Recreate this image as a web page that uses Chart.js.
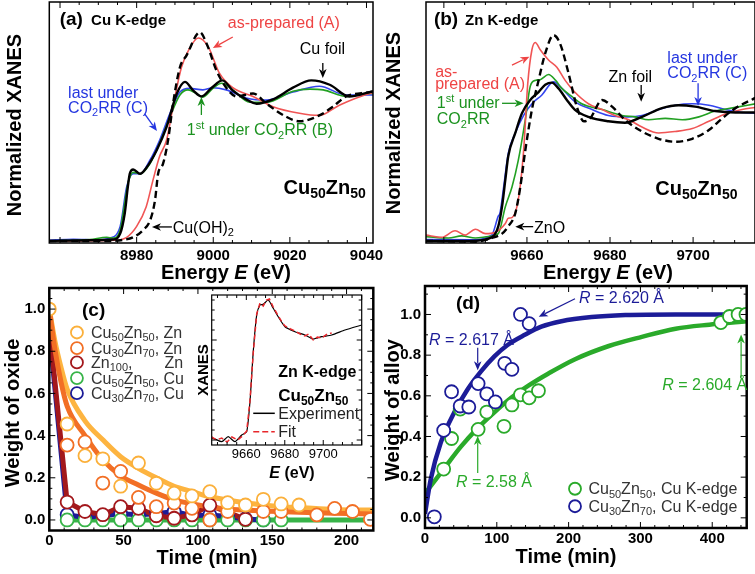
<!DOCTYPE html>
<html>
<head>
<meta charset="utf-8">
<script src="https://cdn.jsdelivr.net/npm/chart.js@4"></script>
<style>
  body { margin: 0; background: #fff; }
  #wrap { position: relative; width: 755px; height: 574px; overflow: hidden; background: #fff; }
  #wrap canvas { position: absolute; left: 0; top: 0; }
</style>
</head>
<body>
<div id="wrap">
  <canvas id="chartA" width="755" height="574"></canvas>
  <canvas id="chartB" width="755" height="574"></canvas>
  <canvas id="chartC" width="755" height="574"></canvas>
  <canvas id="chartI" width="755" height="574"></canvas>
  <canvas id="chartD" width="755" height="574"></canvas>
</div>
<script>
// ---- (a) Cu K-edge XANES ----
const cuFoilE = [8957.2, 8967.8, 8973.9, 8975.7, 8976.9, 8977.7, 8978.2, 8979.1, 8980.9, 8982.5, 8985.2, 8987.8, 8990.5, 8992.6, 8994.8, 8996.9, 8999.6, 9002.4, 9005.1, 9008.6, 9011.3, 9015.6, 9020.8, 9025.6, 9030.4, 9035.5, 9040.8, 9041.7];
const cuFoilMu = [0, 0.005, 0.01, 0.05, 0.19, 0.37, 0.46, 0.49, 0.46, 0.50, 0.62, 0.78, 1.01, 1.09, 1.03, 0.99, 1.05, 1.10, 1.03, 0.97, 0.94, 0.97, 1.05, 1.10, 1.07, 0.99, 1.02, 1.025];
const cuOHE = [8957.2, 8973.0, 8976.4, 8979.1, 8981.7, 8983.5, 8984.8, 8985.6, 8986.9, 8988.2, 8989.5, 8991.3, 8993.0, 8996.5, 8998.3, 9000.8, 9003.4, 9006.1, 9010.4, 9013.9, 9019.1, 9022.5, 9027.7, 9031.2, 9034.7, 9040.8, 9041.7];
const cuOHMu = [0, 0.0, 0.007, 0.025, 0.075, 0.14, 0.28, 0.46, 0.53, 0.69, 0.94, 1.19, 1.27, 1.43, 1.35, 1.17, 1.05, 0.99, 1.01, 0.94, 0.85, 0.82, 0.86, 0.92, 0.99, 1.02, 1.025];
const cuPrepE = [8957.2, 8974.1, 8977.4, 8980.0, 8982.5, 8984.3, 8986.0, 8987.8, 8989.5, 8991.7, 8993.8, 8996.1, 8998.7, 9001.6, 9005.1, 9010.4, 9015.6, 9022.5, 9027.7, 9032.9, 9040.8, 9041.7];
const cuPrepMu = [0, 0.005, 0.025, 0.10, 0.235, 0.42, 0.58, 0.69, 0.92, 1.19, 1.32, 1.39, 1.33, 1.15, 1.05, 0.99, 0.92, 0.875, 0.86, 0.93, 1.01, 1.015];
const cuFirstE = [8957.2, 8967.8, 8972.2, 8973.9, 8975.7, 8977.8, 8979.1, 8980.9, 8983.5, 8986.0, 8988.7, 8991.3, 8993.4, 8995.6, 8997.3, 8999.9, 9002.2, 9005.1, 9009.5, 9013.9, 9020.8, 9025.2, 9028.7, 9034.7, 9040.8, 9041.7];
const cuFirstMu = [0, 0.01, 0.025, 0.02, 0.075, 0.40, 0.47, 0.46, 0.53, 0.67, 0.85, 1.0, 1.035, 1.01, 0.985, 1.045, 1.08, 1.035, 0.95, 0.95, 1.025, 1.04, 1.035, 0.99, 1.01, 1.01];
const cuLastE = [8957.2, 8963.5, 8969.9, 8973.0, 8975.7, 8977.4, 8979.1, 8980.9, 8983.5, 8986.0, 8988.7, 8991.3, 8993.8, 8997.3, 8999.9, 9003.4, 9008.6, 9013.9, 9020.8, 9027.7, 9034.7, 9040.8, 9041.7];
const cuLastMu = [0.005, 0.012, 0.008, 0.02, 0.10, 0.37, 0.46, 0.46, 0.555, 0.69, 0.875, 1.02, 1.045, 1.035, 1.05, 1.035, 0.98, 0.965, 1.02, 1.06, 1.0, 1.0, 1.0];
const cuTicks = [8980, 9000, 9020, 9040];

// ---- (b) Zn K-edge XANES ----
const znFoilE = [9635.7, 9646.2, 9651.5, 9653.1, 9654.0, 9654.8, 9655.5, 9657.2, 9658.8, 9660.8, 9662.8, 9664.4, 9666.0, 9667.6, 9669.6, 9671.5, 9674.8, 9679.6, 9683.6, 9687.7, 9692.5, 9696.5, 9700.5, 9705.3, 9710.2, 9715.0];
const znFoilMu = [0.0, 0.0, 0.025, 0.10, 0.235, 0.42, 0.58, 0.74, 0.875, 0.966, 1.02, 1.07, 1.085, 1.045, 0.966, 0.90, 0.85, 0.82, 0.81, 0.85, 0.91, 0.93, 0.92, 0.89, 0.88, 0.88];
const znOE = [9635.7, 9647.6, 9651.5, 9654.0, 9655.5, 9657.2, 9658.4, 9659.6, 9661.2, 9662.8, 9664.4, 9666.4, 9668.0, 9670.0, 9672.0, 9673.7, 9675.2, 9678.1, 9680.5, 9683.6, 9687.7, 9691.7, 9695.7, 9699.8, 9703.8, 9707.0, 9710.2, 9715.0];
const znOMu = [0.0, -0.005, 0.02, 0.05, 0.10, 0.19, 0.37, 0.62, 0.90, 1.10, 1.285, 1.41, 1.35, 1.15, 0.92, 0.82, 0.84, 0.966, 0.92, 0.83, 0.75, 0.70, 0.68, 0.70, 0.76, 0.84, 0.91, 0.98];
const znPrepE = [9635.7, 9639.5, 9642.7, 9645.1, 9647.6, 9650.0, 9652.4, 9654.8, 9655.5, 9656.4, 9657.9, 9659.2, 9660.2, 9661.2, 9662.0, 9663.2, 9665.2, 9667.2, 9669.2, 9671.5, 9674.8, 9678.1, 9681.2, 9684.5, 9687.7, 9691.7, 9695.7, 9699.8, 9703.8, 9707.8, 9711.8, 9715.0];
const znPrepMu = [0.04, 0.025, 0.07, 0.04, 0.08, 0.05, 0.06, 0.12, 0.155, 0.16, 0.28, 0.62, 1.08, 1.31, 1.36, 1.31, 1.24, 1.19, 1.10, 1.02, 0.94, 0.90, 0.86, 0.83, 0.78, 0.74, 0.75, 0.77, 0.82, 0.87, 0.90, 0.915];
const znFirstE = [9635.7, 9641.1, 9644.3, 9647.6, 9650.7, 9653.1, 9654.8, 9656.4, 9657.9, 9659.6, 9660.8, 9662.0, 9663.2, 9665.2, 9666.9, 9668.4, 9670.8, 9673.2, 9678.1, 9682.9, 9686.0, 9689.3, 9693.3, 9697.4, 9701.4, 9705.3, 9710.2, 9715.0];
const znFirstMu = [0.03, 0.02, 0.035, 0.02, 0.03, 0.05, 0.235, 0.37, 0.55, 0.83, 1.06, 1.10, 1.105, 1.14, 1.10, 1.045, 0.99, 0.94, 0.90, 0.86, 0.85, 0.83, 0.84, 0.83, 0.85, 0.89, 0.915, 0.94];
const znLastE = [9635.7, 9646.2, 9651.5, 9653.1, 9653.5, 9654.4, 9655.5, 9657.2, 9659.2, 9661.2, 9663.6, 9666.4, 9668.4, 9671.5, 9675.7, 9679.6, 9684.5, 9687.7, 9691.7, 9695.7, 9699.8, 9703.8, 9707.8, 9711.8, 9715.0];
const znLastMu = [0.01, 0.008, 0.04, 0.17, 0.19, 0.37, 0.60, 0.74, 0.86, 0.94, 1.0, 1.09, 1.045, 0.955, 0.90, 0.86, 0.85, 0.86, 0.90, 0.93, 0.94, 0.93, 0.90, 0.88, 0.875];
const znTicks = [9660, 9680, 9700];

// ---- inset of (c): Zn K-edge fit ----
const insExpE = [9642, 9643.7, 9647.2, 9650.6, 9654.1, 9657.6, 9660.2, 9661.9, 9663.6, 9665.4, 9667.1, 9668.8, 9671.4, 9674.0, 9676.6, 9680.1, 9685.3, 9690.5, 9694.8, 9699.2, 9704.4, 9711.3, 9720];
const insExpMu = [0.02, 0.01, -0.017, 0.033, -0.017, 0.05, 0.083, 0.383, 0.883, 1.25, 1.35, 1.357, 1.40, 1.317, 1.233, 1.133, 1.083, 1.05, 1.01, 1.033, 1.05, 1.10, 1.15];
const insFitE = [9642, 9644.5, 9647.2, 9650.0, 9652.5, 9655.5, 9658.0, 9660.2, 9661.9, 9663.6, 9665.4, 9667.1, 9668.8, 9670.5, 9672.0, 9674.0, 9676.6, 9678.5, 9680.1, 9683.0, 9685.3, 9688.0, 9690.5, 9692.5, 9694.8, 9697.0, 9699.2, 9702.0, 9704.4];
const insFitMu = [0.03, 0.0, 0.02, -0.02, 0.03, 0.0, 0.04, 0.09, 0.39, 0.87, 1.26, 1.37, 1.34, 1.40, 1.41, 1.33, 1.24, 1.18, 1.14, 1.11, 1.09, 1.06, 1.04, 1.06, 1.0, 1.03, 1.02, 1.06, 1.07];

// ---- (c) weight of oxide vs time ----
const c5050ZnT = [0, 12, 24, 36, 48, 60, 72, 84, 96, 108, 120, 132, 144, 156, 168];
const c5050ZnW = [1.0, 0.455, 0.305, 0.29, 0.16, 0.27, 0.174, 0.127, 0.114, 0.134, 0.082, 0.071, 0.098, 0.076, 0.071];
const c3070ZnT = [12, 24, 36, 48, 60, 72, 84, 96, 108, 120, 144, 156, 180, 192, 204, 216];
const c3070ZnW = [0.355, 0.37, 0.175, 0.23, 0.107, 0.063, 0.08, 0.055, 0.0, 0.04, 0.04, 0.04, 0.024, 0.055, 0.04, 0.003];
const zn100T = [12, 24, 36, 48, 60, 72, 84, 96, 108, 132];
const zn100W = [0.085, 0.04, 0.025, 0.063, 0.055, 0.02, 0.008, 0.024, 0.07, 0.003];
const c5050CuT = [12, 24, 36, 48, 60, 72, 84, 96, 108, 120, 132, 144, 156];
const c5050CuW = [0, 0, 0, 0, 0, 0, 0, 0, 0, 0, 0, 0, 0];
const c3070CuT = [12, 24, 36, 48, 60, 72, 84, 96, 108, 120, 132, 144];
const c3070CuW = [0.025, 0.012, 0.02, 0.03, 0.025, 0.03, 0.04, 0.02, 0.024, 0.016, 0.005, 0.0];
// fitted curves and connecting lines
const fit5050T = [0, 4, 8, 12, 24, 36, 48, 60, 72, 84, 96, 108, 120, 132, 144, 156, 168, 192, 218];
const fit5050W = [1.0, 0.84, 0.72, 0.62, 0.47, 0.38, 0.30, 0.245, 0.20, 0.16, 0.135, 0.11, 0.095, 0.082, 0.071, 0.063, 0.059, 0.05, 0.047];
const fit3070T = [0, 4, 8, 12, 24, 36, 48, 60, 72, 84, 96, 108, 120, 144, 168, 192, 218];
const fit3070W = [1.0, 0.80, 0.65, 0.54, 0.40, 0.285, 0.21, 0.166, 0.127, 0.095, 0.076, 0.063, 0.052, 0.043, 0.036, 0.032, 0.028];
const zn100LineT = [0, 12, 24, 36, 48, 60, 72, 84, 96, 108, 132];
const zn100LineW = [0.92, 0.085, 0.04, 0.025, 0.063, 0.055, 0.02, 0.008, 0.024, 0.07, 0.003];
const cu3070LineT = [0, 12, 24, 36, 48, 60, 72, 84, 96, 108, 120, 132, 144];
const cu3070LineW = [0.9, 0.025, 0.012, 0.02, 0.03, 0.025, 0.03, 0.04, 0.02, 0.024, 0.016, 0.005, 0.0];
const cu5050LineT = [8, 216];
const cu5050LineW = [0, 0];
const legendC = ['Cu_{50}Zn_{50}, Zn', 'Cu_{30}Zn_{70}, Zn', 'Zn_{100},', 'Cu_{50}Zn_{50}, Cu', 'Cu_{30}Zn_{70}, Cu'];
const legendRowsW = [0.889, 0.815, 0.747, 0.673, 0.601];

// ---- (d) weight of alloy vs time ----
const d3070T = [13, 26, 37, 49, 61, 74, 86, 98, 111, 121, 133, 145];
const d3070W = [0.005, 0.43, 0.62, 0.55, 0.545, 0.66, 0.61, 0.57, 0.76, 0.73, 1.0, 0.955];
const d5050T = [26, 37, 49, 74, 86, 110, 121, 133, 145, 158, 412, 424, 436, 447];
const d5050W = [0.24, 0.39, 0.535, 0.435, 0.52, 0.45, 0.555, 0.605, 0.59, 0.625, 0.96, 0.99, 1.0, 1.0];
const dFit3070T = [0, 8, 22, 41, 59, 78, 97, 115, 139, 162, 190, 232, 279, 349, 450];
const dFit3070W = [0.02, 0.19, 0.37, 0.52, 0.63, 0.72, 0.795, 0.85, 0.90, 0.94, 0.967, 0.987, 0.997, 1.0, 1.0];
const dFit5050T = [0, 26, 50, 73, 97, 120, 144, 172, 209, 256, 302, 349, 396, 450];
const dFit5050W = [0.12, 0.24, 0.35, 0.44, 0.52, 0.59, 0.65, 0.71, 0.78, 0.845, 0.89, 0.93, 0.95, 0.967];

const FONT = '"Liberation Sans", Arial, Helvetica, sans-serif';
const RED_T = '#ee4444', BLUE_T = '#2436e0', GREEN_T = '#1b921f';
const LORANGE = '#fbb03b', ORANGE = '#f26f25', DRED = '#a3181c', GREEN_C = '#38b449', NAVY = '#1c1c98', GREEN_D = '#2aaa2a';

// text with _{sub}, ^{sup} and *italic* pieces
function drawRich(ctx, str, x, y, size, o) {
    const parts = [];
    const re = /_\{([^}]*)\}|\^\{([^}]*)\}|\*([^*]*)\*|([^_^*]+)/g;
    let m;
    while ((m = re.exec(str)) !== null) {
        if (m[1] !== undefined) parts.push({ s: m[1], k: 'sub' });
        else if (m[2] !== undefined) parts.push({ s: m[2], k: 'sup' });
        else if (m[3] !== undefined) parts.push({ s: m[3], k: 'it' });
        else parts.push({ s: m[4], k: 'n' });
    }
    const bold = o.bold ? 'bold ' : '';
    const fontFor = p => (p.k === 'it' ? 'italic ' : '') + bold +
        Math.round(p.k === 'sub' || p.k === 'sup' ? size * 0.68 : size) + 'px ' + FONT;
    let w = 0;
    parts.forEach(p => { ctx.font = fontFor(p); p.w = ctx.measureText(p.s).width; w += p.w; });
    let cx = o.align === 'center' ? x - w / 2 : (o.align === 'right' ? x - w : x);
    ctx.textAlign = 'left';
    ctx.textBaseline = 'alphabetic';
    ctx.fillStyle = o.color || '#000';
    parts.forEach(p => {
        ctx.font = fontFor(p);
        const dy = p.k === 'sub' ? size * 0.22 : (p.k === 'sup' ? -size * 0.38 : 0);
        ctx.fillText(p.s, cx, y + dy);
        cx += p.w;
    });
    return w;
}

function drawArrow(ctx, x1, y1, x2, y2, color, lw) {
    const ang = Math.atan2(y2 - y1, x2 - x1), hl = 9, hw = 3.8;
    const bx = x2 - hl * Math.cos(ang), by = y2 - hl * Math.sin(ang);
    ctx.save();
    ctx.strokeStyle = color; ctx.fillStyle = color; ctx.lineWidth = lw;
    ctx.beginPath(); ctx.moveTo(x1, y1); ctx.lineTo(bx + 2 * Math.cos(ang), by + 2 * Math.sin(ang)); ctx.stroke();
    ctx.beginPath();
    ctx.moveTo(x2, y2);
    ctx.lineTo(bx + hw * Math.sin(ang), by - hw * Math.cos(ang));
    ctx.lineTo(bx + 2.5 * Math.cos(ang), by + 2.5 * Math.sin(ang));
    ctx.lineTo(bx - hw * Math.sin(ang), by + hw * Math.cos(ang));
    ctx.closePath(); ctx.fill();
    ctx.restore();
}

// frame + inward ticks per panel: [major, minor] steps
const FRAMES = {
    chartA: { lw: 1.5, x: [20, 5], y: null, major: 6, minor: 3 },
    chartB: { lw: 1.5, x: [20, 5], y: null, major: 6, minor: 3 },
    chartC: { lw: 2.5, x: [50, 10], y: [0.2, 0.05], major: 6, minor: 3 },
    chartI: { lw: 1.2, x: [20, 5], y: [0.5, 0.1], major: 5, minor: 3, fill: true },
    chartD: { lw: 2.5, x: [100, 20], y: [0.2, 0.1], major: 6, minor: 3 }
};

const framePlugin = {
    id: 'frame',
    beforeDatasetsDraw(chart) {
        const f = FRAMES[chart.canvas.id];
        if (!f || !f.fill) return;
        const a = chart.chartArea;
        chart.ctx.save();
        chart.ctx.fillStyle = '#fff';
        chart.ctx.fillRect(a.left, a.top, a.right - a.left, a.bottom - a.top);
        chart.ctx.restore();
    },
    afterDatasetsDraw(chart) {
        const f = FRAMES[chart.canvas.id];
        if (!f) return;
        const { ctx, chartArea: a } = chart;
        const sx = chart.scales.x, sy = chart.scales.y;
        ctx.save();
        ctx.strokeStyle = '#000';
        ctx.lineWidth = f.lw;
        ctx.strokeRect(a.left, a.top, a.right - a.left, a.bottom - a.top);
        ctx.lineWidth = 1;
        function marks(scale, step, horiz) {
            const first = Math.ceil(scale.min / step[1] - 1e-6);
            const last = Math.floor(scale.max / step[1] + 1e-6);
            for (let k = first; k <= last; k++) {
                const v = k * step[1];
                const isMajor = Math.abs(v / step[0] - Math.round(v / step[0])) < 1e-6;
                const len = isMajor ? f.major : f.minor;
                const p = scale.getPixelForValue(v);
                ctx.beginPath();
                if (horiz) {
                    ctx.moveTo(p, a.bottom); ctx.lineTo(p, a.bottom - len);
                    ctx.moveTo(p, a.top); ctx.lineTo(p, a.top + len);
                } else {
                    ctx.moveTo(a.left, p); ctx.lineTo(a.left + len, p);
                    ctx.moveTo(a.right, p); ctx.lineTo(a.right - len, p);
                }
                ctx.stroke();
            }
        }
        if (f.x) marks(sx, f.x, true);
        if (f.y) marks(sy, f.y, false);
        ctx.restore();
    }
};

// annotations: data coords (x, y) or page pixels (px, py)
const NOTES = {
    chartA: [
        { k: 'text', x: 8959.9, y: 1.479, s: '(a)', size: 19, bold: true },
        { k: 'text', x: 8968.1, y: 1.479, s: 'Cu K-edge', size: 15, bold: true },
        { k: 'text', x: 9003.8, y: 1.459, s: 'as-prepared (A)', size: 16, color: RED_T },
        { k: 'arrow', x1: 9005.1, y1: 1.397, x2: 8999.9, y2: 1.322, color: RED_T },
        { k: 'text', x: 9028.5, y: 1.281, s: 'Cu foil', size: 16, align: 'center' },
        { k: 'arrow', x1: 9028.6, y1: 1.219, x2: 9028.6, y2: 1.116 },
        { k: 'text', x: 8962.1, y: 0.979, s: 'last under', size: 16, color: BLUE_T },
        { k: 'text', x: 8962.1, y: 0.877, s: 'CO_{2}RR (C)', size: 16, color: BLUE_T },
        { k: 'arrow', x1: 8982.1, y1: 0.870, x2: 8985.3, y2: 0.753, color: BLUE_T },
        { k: 'text', x: 8993.1, y: 0.726, s: '1^{st} under CO_{2}RR (B)', size: 16, color: GREEN_T },
        { k: 'arrow', x1: 8996.9, y1: 0.863, x2: 8996.9, y2: 0.986, color: GREEN_T },
        { k: 'text', x: 9039.8, y: 0.322, s: 'Cu_{50}Zn_{50}', size: 20, bold: true, align: 'right' },
        { k: 'arrow', x1: 8989.2, y1: 0.096, x2: 8984.0, y2: 0.096 },
        { k: 'text', x: 8989.4, y: 0.055, s: 'Cu(OH)_{2}', size: 16 },
        { k: 'vtext', px: 14, py: 125, s: 'Normalized XANES', size: 20, bold: true },
        { k: 'text', px: 226, py: 279, s: 'Energy *E* (eV)', size: 20, bold: true, align: 'center' }
    ],
    chartB: [
        { k: 'text', x: 9637.6, y: 1.479, s: '(b)', size: 19, bold: true },
        { k: 'text', x: 9645.1, y: 1.479, s: 'Zn K-edge', size: 15, bold: true },
        { k: 'text', x: 9637.9, y: 1.123, s: 'as-', size: 16, color: RED_T },
        { k: 'text', x: 9637.9, y: 1.041, s: 'prepared (A)', size: 16, color: RED_T },
        { k: 'arrow', x1: 9656.4, y1: 1.205, x2: 9660.6, y2: 1.262, color: RED_T },
        { k: 'text', x: 9684.9, y: 1.089, s: 'Zn foil', size: 16, align: 'center' },
        { k: 'arrow', x1: 9687.5, y1: 1.068, x2: 9687.5, y2: 0.954 },
        { k: 'text', x: 9693.8, y: 1.219, s: 'last under', size: 16, color: BLUE_T },
        { k: 'text', x: 9693.8, y: 1.116, s: 'CO_{2}RR (C)', size: 16, color: BLUE_T },
        { k: 'arrow', x1: 9701.2, y1: 1.08, x2: 9701.2, y2: 0.925, color: BLUE_T },
        { k: 'text', x: 9638.3, y: 0.911, s: '1^{st} under', size: 16, color: GREEN_T },
        { k: 'text', x: 9638.3, y: 0.80, s: 'CO_{2}RR', size: 16, color: GREEN_T },
        { k: 'arrow', x1: 9654.0, y1: 0.943, x2: 9659.2, y2: 0.943, color: GREEN_T },
        { k: 'text', x: 9710.7, y: 0.315, s: 'Cu_{50}Zn_{50}', size: 20, bold: true, align: 'right' },
        { k: 'arrow', x1: 9661.5, y1: 0.098, x2: 9657.2, y2: 0.098 },
        { k: 'text', x: 9661.7, y: 0.055, s: 'ZnO', size: 16 },
        { k: 'vtext', px: 393, py: 123, s: 'Normalized XANES', size: 20, bold: true },
        { k: 'text', px: 608, py: 279, s: 'Energy *E* (eV)', size: 20, bold: true, align: 'center' }
    ],
    chartC: [
        { k: 'text', x: 22, y: 0.968, s: '(c)', size: 19, bold: true },
        { k: 'vtext', px: 12, py: 413, s: 'Weight of oxide', size: 20, bold: true },
        { k: 'text', px: 207, py: 564, s: 'Time (min)', size: 20, bold: true, align: 'center' }
    ],
    chartI: [
        { k: 'vtext', px: 203, py: 370, s: 'XANES', size: 15, bold: true },
        { k: 'text', px: 292, py: 478, s: '*E* (eV)', size: 16, bold: true, align: 'center' },
        { k: 'text', x: 9676.6, y: 0.63, s: 'Zn K-edge', size: 16, bold: true },
        { k: 'text', x: 9676.6, y: 0.39, s: 'Cu_{50}Zn_{50}', size: 17, bold: true },
        { k: 'seg', x1: 9663.6, x2: 9674.8, y: 0.267, color: '#000', lw: 1.5 },
        { k: 'text', x: 9676.6, y: 0.21, s: 'Experiment', size: 16, color: '#222' },
        { k: 'seg', x1: 9663.6, x2: 9674.8, y: 0.083, color: '#e8262b', lw: 1.5, dash: [6, 3] },
        { k: 'text', x: 9676.6, y: 0.03, s: 'Fit', size: 16, color: '#222' }
    ],
    chartD: [
        { k: 'text', x: 43, y: 1.028, s: '(d)', size: 19, bold: true },
        { k: 'text', x: 214.5, y: 1.054, s: '*R* = 2.620 Å', size: 16, color: NAVY },
        { k: 'arrow', x1: 208.9, y1: 1.077, x2: 158.4, y2: 0.989, color: NAVY, lw: 1.2 },
        { k: 'text', x: 5.6, y: 0.849, s: '*R* = 2.617 Å', size: 16, color: NAVY },
        { k: 'arrow', x1: 73.4, y1: 0.836, x2: 73.4, y2: 0.726, color: NAVY, lw: 1.2 },
        { k: 'text', x: 330.4, y: 0.628, s: '*R* = 2.604 Å', size: 16, color: GREEN_D },
        { k: 'arrow', x1: 440.2, y1: 0.689, x2: 440.2, y2: 0.902, color: GREEN_D, lw: 1.2 },
        { k: 'text', x: 43, y: 0.152, s: '*R* = 2.58 Å', size: 16, color: GREEN_D },
        { k: 'arrow', x1: 73.4, y1: 0.221, x2: 73.4, y2: 0.402, color: GREEN_D, lw: 1.2 },
        { k: 'dot', x: 208.9, y: 0.143, color: GREEN_D },
        { k: 'text', x: 227.6, y: 0.115, s: 'Cu_{50}Zn_{50}, Cu K-edge', size: 16, color: '#333' },
        { k: 'dot', x: 208.9, y: 0.057, color: NAVY },
        { k: 'text', x: 227.6, y: 0.03, s: 'Cu_{30}Zn_{70}, Cu K-edge', size: 16, color: '#333' },
        { k: 'vtext', px: 392, py: 410, s: 'Weight of alloy', size: 20, bold: true },
        { k: 'text', px: 566, py: 563, s: 'Time (min)', size: 20, bold: true, align: 'center' }
    ]
};

// legend of panel (c) built from the label list
[LORANGE, ORANGE, DRED, GREEN_C, NAVY].forEach((col, i) => {
    NOTES.chartC.push({ k: 'dot', x: 18.6, y: legendRowsW[i], color: col });
    NOTES.chartC.push({ k: 'text', x: 28.1, y: legendRowsW[i] - 0.026, s: legendC[i], size: 16, color: '#333' });
});
NOTES.chartC.push({ k: 'text', x: 77.5, y: legendRowsW[2] - 0.026, s: 'Zn', size: 16, color: '#333' });

const notesPlugin = {
    id: 'notes',
    afterDraw(chart) {
        const items = NOTES[chart.canvas.id] || [];
        const ctx = chart.ctx, sx = chart.scales.x, sy = chart.scales.y;
        const X = v => sx.getPixelForValue(v), Y = v => sy.getPixelForValue(v);
        items.forEach(it => {
            const px = it.px !== undefined ? it.px : X(it.x);
            const py = it.py !== undefined ? it.py : Y(it.y);
            if (it.k === 'text') {
                drawRich(ctx, it.s, px, py, it.size, it);
            } else if (it.k === 'vtext') {
                ctx.save();
                ctx.translate(px, py);
                ctx.rotate(-Math.PI / 2);
                drawRich(ctx, it.s, 0, it.size * 0.36, it.size, { bold: it.bold, align: 'center' });
                ctx.restore();
            } else if (it.k === 'arrow') {
                drawArrow(ctx, X(it.x1), Y(it.y1), X(it.x2), Y(it.y2), it.color || '#000', it.lw || 1.3);
            } else if (it.k === 'dot') {
                ctx.save();
                ctx.beginPath();
                ctx.arc(px, py, 6, 0, Math.PI * 2);
                ctx.fillStyle = '#fff'; ctx.fill();
                ctx.lineWidth = 1.8; ctx.strokeStyle = it.color; ctx.stroke();
                ctx.restore();
            } else if (it.k === 'seg') {
                ctx.save();
                ctx.strokeStyle = it.color; ctx.lineWidth = it.lw;
                ctx.setLineDash(it.dash || []);
                ctx.beginPath(); ctx.moveTo(X(it.x1), py); ctx.lineTo(X(it.x2), py); ctx.stroke();
                ctx.restore();
            }
        });
    }
};

function pts(xs, ys) {
    return xs.map((x, i) => ({ x: x, y: ys[i] }));
}
function curve(xs, ys, color, width, opts) {
    return Object.assign({
        data: pts(xs, ys), showLine: true, borderColor: color, borderWidth: width,
        pointRadius: 0, fill: false, cubicInterpolationMode: 'monotone', order: 1
    }, opts || {});
}
function poly(xs, ys, color, width) {
    return { data: pts(xs, ys), showLine: true, borderColor: color, borderWidth: width,
             pointRadius: 0, fill: false, tension: 0, order: 2, borderJoinStyle: 'round' };
}
function dots(xs, ys, color) {
    return { data: pts(xs, ys), showLine: false, pointRadius: 6.5, pointBorderWidth: 1.8,
             pointBorderColor: color, pointBackgroundColor: '#fff', order: 0 };
}

// axis boxes keep a real size so Chart.js does not clip the labels away
const X_BOX = 22;
function axisX(min, max, ticks, font, pad) {
    return {
        type: 'linear', position: 'bottom', min: min, max: max,
        afterFit: s => { s.height = X_BOX; },
        afterBuildTicks: s => { s.ticks = ticks.map(v => ({ value: v })); },
        grid: { display: false, drawTicks: false },
        border: { display: false },
        ticks: { display: true, padding: pad, color: '#000', font: font, maxRotation: 0, autoSkip: false,
                  callback: v => String(v) }
    };
}
function axisY(min, max, ticks, font, pad, show, boxW) {
    return {
        type: 'linear', position: 'left', min: min, max: max,
        afterFit: s => { s.width = boxW; },
        afterBuildTicks: s => { s.ticks = ticks.map(v => ({ value: v })); },
        grid: { display: false, drawTicks: false },
        border: { display: false },
        ticks: { display: show, padding: pad, color: '#000', font: font, autoSkip: false,
                 callback: v => Number(v).toFixed(1) }
    };
}

function buildChart(id, area, yBoxW, xAxis, yAxis, datasets) {
    return new Chart(document.getElementById(id), {
        type: 'scatter',
        data: { datasets: datasets },
        options: {
            responsive: false, animation: false, events: [],
            layout: { padding: { left: area[0] - yBoxW, top: area[1], right: 755 - area[2], bottom: 574 - area[3] - X_BOX } },
            plugins: { legend: { display: false }, tooltip: { enabled: false } },
            scales: { x: xAxis, y: yAxis }
        },
        plugins: [framePlugin, notesPlugin]
    });
}

const tickBold = { family: FONT, size: 15, weight: 'bold' };

// (a)
buildChart('chartA', [49.3, 2, 373, 243], 0,
    axisX(8957.2, 9041.7, cuTicks, tickBold, 4),
    axisY(-0.014, 1.637, [0], tickBold, 4, false, 0),
    [
        curve(cuFoilE, cuFoilMu, '#000', 2.4, { order: 0 }),
        curve(cuOHE, cuOHMu, '#000', 2.4, { order: 0, borderDash: [7, 4] }),
        curve(cuPrepE, cuPrepMu, '#f05555', 1.6),
        curve(cuFirstE, cuFirstMu, '#22a022', 1.6),
        curve(cuLastE, cuLastMu, '#3344ee', 1.6)
    ]);

// (b)
buildChart('chartB', [426, 2, 755, 243], 0,
    axisX(9635.7, 9714.9, znTicks, tickBold, 4),
    axisY(-0.014, 1.637, [0], tickBold, 4, false, 0),
    [
        curve(znFoilE, znFoilMu, '#000', 2.4, { order: 0 }),
        curve(znOE, znOMu, '#000', 2.4, { order: 0, borderDash: [7, 4] }),
        curve(znPrepE, znPrepMu, '#f05555', 1.6),
        curve(znFirstE, znFirstMu, '#22a022', 1.6),
        curve(znLastE, znLastMu, '#3344ee', 1.6)
    ]);

// (c)
buildChart('chartC', [49.3, 288, 373.3, 530.5], 40,
    axisX(0, 218, [0, 50, 100, 150, 200], tickBold, 1),
    axisY(-0.05, 1.1, [0, 0.2, 0.4, 0.6, 0.8, 1.0], tickBold, 4, true, 40),
    [
        dots(c5050ZnT, c5050ZnW, LORANGE),
        dots(c3070ZnT, c3070ZnW, ORANGE),
        dots(zn100T, zn100W, DRED),
        dots(c5050CuT, c5050CuW, GREEN_C),
        dots(c3070CuT, c3070CuW, NAVY),
        curve(fit3070T, fit3070W, ORANGE, 5),
        curve(fit5050T, fit5050W, '#fdb440', 5),
        poly(zn100LineT, zn100LineW, DRED, 5),
        poly(cu3070LineT, cu3070LineW, NAVY, 5),
        poly(cu5050LineT, cu5050LineW, GREEN_C, 5)
    ]);

// inset
buildChart('chartI', [211.7, 295, 361.7, 445], 0,
    axisX(9642, 9720, znTicks, { family: FONT, size: 13 }, 2),
    axisY(-0.05, 1.45, [0], tickBold, 4, false, 0),
    [
        curve(insFitE, insFitMu, '#e8262b', 1.5, { order: 0, borderDash: [5, 3], cubicInterpolationMode: 'default', tension: 0 }),
        curve(insExpE, insExpMu, '#000', 1.2, { order: 1, cubicInterpolationMode: 'default', tension: 0.2 })
    ]);

// (d)
buildChart('chartD', [425, 286, 748, 528], 40,
    axisX(0, 448, [0, 100, 200, 300, 400], tickBold, 2),
    axisY(-0.05, 1.14, [0, 0.2, 0.4, 0.6, 0.8, 1.0], tickBold, 4, true, 40),
    [
        dots(d3070T, d3070W, NAVY),
        dots(d5050T, d5050W, GREEN_D),
        curve(dFit3070T, dFit3070W, NAVY, 4.5),
        curve(dFit5050T, dFit5050W, GREEN_D, 4.5)
    ]);
</script>
</body>
</html>
